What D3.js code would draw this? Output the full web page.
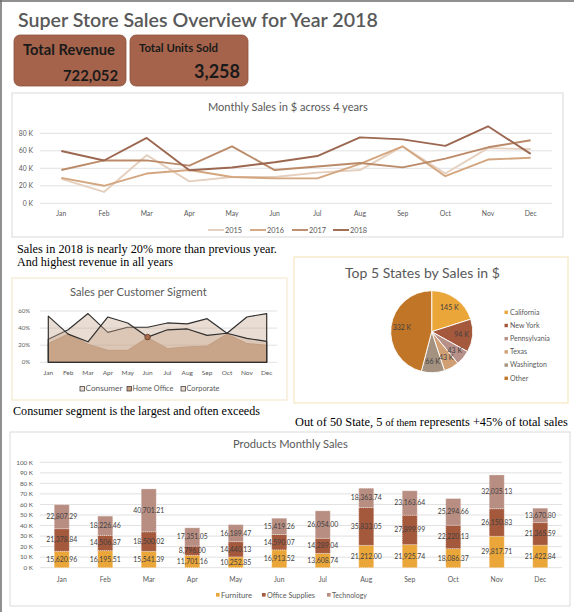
<!DOCTYPE html>
<html lang="en">
<head>
<meta charset="utf-8" />
<title>Super Store Sales Overview for Year 2018</title>
<script src="https://d3js.org/d3.v7.min.js"></script>
<style>
  body { margin: 0; background: #fff; }
  svg { display: block; }
  text { font-family: Lato, "Open Sans", sans-serif; fill: #595959; }
  .serif { font-family: "Liberation Serif", "DejaVu Serif", serif; fill: #000; }
</style>
</head>
<body>
<svg id="dash" width="574" height="612"></svg>
<script>
// ---- data ----
var months = ["Jan","Feb","Mar","Apr","May","Jun","Jul","Aug","Sep","Oct","Nov","Dec"];

// monthly sales (K $)
var years = ["2015","2016","2017","2018"];
var sales2015 = [28, 13, 55, 25, 30, 30, 35, 38, 65, 34, 63, 62];
var sales2016 = [29, 20, 34, 38, 30, 28.5, 28.5, 45, 65, 31, 50, 52];
var sales2017 = [38, 49, 49, 43, 65, 38, 42, 46, 41, 51, 64, 72];
var sales2018 = [59.8, 48.9, 74.7, 37.8, 40.9, 46.9, 54.0, 75.4, 73.0, 65.6, 88.0, 56.5];

// customer segment share (%)
var segments = ["Consumer","Home Office","Corporate"];
var consumer   = [27, 38, 57, 35, 41, 41, 46, 45, 51, 34, 53, 57];
var homeOffice = [22, 33, 21, 14, 14, 29, 16, 18, 19, 33, 22, 20];
var corporate  = [54, 33, 24, 53, 46, 29.5, 38, 39, 31.5, 34, 28, 24.5];

// top states (K $)
var states = ["California","New York","Pennsylvania","Texas","Washington","Other"];
var stateSales = [145, 94, 43, 43, 66, 332];

// product categories 2018 ($)
var categories = ["Furniture","Office Supplies","Technology"];
var furniture = [15620.96, 16195.51, 15541.39, 11701.16, 10252.85, 16913.52, 13608.74, 21212.00, 21925.74, 18086.37, 29817.71, 21422.84];
var officeSupplies = [21378.84, 14506.87, 18500.02, 8796.00, 14440.13, 14590.07, 14289.04, 35833.05, 27899.99, 22220.13, 26150.83, 21365.59];
var technology = [22807.29, 18226.46, 40701.21, 17351.05, 16189.47, 15419.26, 26054.00, 18363.74, 23163.64, 25294.66, 32035.13, 13670.80];

var totalRevenue = "722,052";
var totalUnits = "3,258";

var svg = d3.select("#dash");

// squeeze/stretch a text to a width by its font size
function fit(t, w) {
  var l = t.node().getComputedTextLength();
  t.attr("font-size", parseFloat(t.attr("font-size")) * w / l);
  return t;
}

// page frame
svg.append("line").attr("x1", 0).attr("x2", 574).attr("y1", 1).attr("y2", 1).attr("stroke", "#6b6b6b").attr("stroke-width", 1.5);
svg.append("line").attr("x1", 1).attr("x2", 1).attr("y1", 0).attr("y2", 612).attr("stroke", "#6b6b6b").attr("stroke-width", 1.5);

// ---- header ----
fit(svg.append("text").attr("x", 18).attr("y", 27).attr("font-size", 20)
  .attr("font-family", "'Open Sans', sans-serif").attr("font-weight", 600)
  .text("Super Store Sales Overview for Year 2018"), 360);

var cards = [
  {x: 14, w: 112, label: "Total Revenue", lw: 92, ls: 12, ly: 55, value: totalRevenue, vw: 55, vs: 14, vy: 81},
  {x: 130, w: 118, label: "Total Units Sold", lw: 79, ls: 9.5, ly: 52, value: totalUnits, vw: 46, vs: 18, vy: 78}
];
cards.forEach(function (c) {
  svg.append("rect").attr("x", c.x).attr("y", 35).attr("width", c.w).attr("height", 51)
    .attr("rx", 6).attr("fill", "#a5634b").attr("stroke", "#8e523d").attr("stroke-width", 0.8);
  fit(svg.append("text").attr("x", c.x + 9).attr("y", c.ly).attr("font-size", c.ls)
    .attr("font-family", "'Open Sans', sans-serif").attr("font-weight", 700).style("fill", "#1a1a1a")
    .text(c.label), c.lw);
  fit(svg.append("text").attr("x", c.x + c.w - 8).attr("y", c.vy).attr("text-anchor", "end")
    .attr("font-size", c.vs).attr("font-family", "'Open Sans', sans-serif").attr("font-weight", 700)
    .style("fill", "#1a1a1a").text(c.value), c.vw);
});

// ---- monthly sales line chart ----
svg.append("rect").attr("x", 12).attr("y", 93).attr("width", 551).attr("height", 144)
  .attr("fill", "#fff").attr("stroke", "#d9d9d9");
fit(svg.append("text").attr("x", 208).attr("y", 111).attr("font-size", 11)
  .text("Monthly Sales in $ across 4 years"), 160);

var lx = d3.scaleBand().domain(months).range([40, 552]);
var ly = d3.scaleLinear().domain([0, 80]).range([203.3, 133.3]);
var lineColors = d3.scaleOrdinal().domain(years).range(["#e5cfbe", "#d3a67f", "#bb8a69", "#9c6750"]);

var lg = svg.append("g");
lg.selectAll("line.grid").data(ly.ticks(4)).enter().append("line")
  .attr("x1", 40).attr("x2", 552).attr("y1", function (d) { return ly(d); }).attr("y2", function (d) { return ly(d); })
  .attr("stroke", "#d9d9d9").attr("stroke-width", 0.8);
lg.selectAll("text.yl").data(ly.ticks(4)).enter().append("text")
  .attr("x", 33).attr("y", function (d) { return ly(d) + 2.4; }).attr("text-anchor", "end")
  .attr("font-size", 6.8).text(function (d) { return d + " K"; });
lg.selectAll("text.xl").data(months).enter().append("text")
  .attr("x", function (d) { return lx(d) + lx.bandwidth() / 2; }).attr("y", 216)
  .attr("text-anchor", "middle").attr("font-size", 6.8).text(function (d) { return d; });

var lineSeries = [
  {year: "2015", values: sales2015}, {year: "2016", values: sales2016},
  {year: "2017", values: sales2017}, {year: "2018", values: sales2018}
];
var line = d3.line()
  .x(function (d, i) { return lx(months[i]) + lx.bandwidth() / 2; })
  .y(function (d) { return ly(d); });
lg.selectAll("path.series").data(lineSeries).enter().append("path")
  .attr("d", function (s) { return line(s.values); })
  .attr("fill", "none").attr("stroke", function (s) { return lineColors(s.year); })
  .attr("stroke-width", 1.9).attr("stroke-linejoin", "round");

var legX = [208, 250, 292, 333];
years.forEach(function (y, i) {
  lg.append("line").attr("x1", legX[i]).attr("x2", legX[i] + 16).attr("y1", 230).attr("y2", 230)
    .attr("stroke", lineColors(y)).attr("stroke-width", 1.9);
  fit(lg.append("text").attr("x", legX[i] + 17).attr("y", 232.5).attr("font-size", 7).text(y), 17);
});

// ---- comments ----
fit(svg.append("text").attr("class", "serif").attr("x", 17).attr("y", 253).attr("font-size", 12)
  .text("Sales in 2018 is nearly 20% more than previous year."), 260);
fit(svg.append("text").attr("class", "serif").attr("x", 17).attr("y", 266).attr("font-size", 12)
  .text("And highest revenue in all years"), 156);
fit(svg.append("text").attr("class", "serif").attr("x", 13).attr("y", 415).attr("font-size", 12)
  .text("Consumer segment is the largest and often exceeds"), 247);
var note = svg.append("text").attr("class", "serif").attr("x", 295).attr("y", 426).attr("font-size", 11.5);
note.append("tspan").text("Out of 50 State, 5 ");
note.append("tspan").text("of them").attr("font-size", 9.5);
note.append("tspan").text(" represents +45% of total sales");
(function () {
  var l = note.node().getComputedTextLength();
  var k = 273 / l;
  note.selectAll("tspan").each(function () {
    var t = d3.select(this);
    var fs = t.attr("font-size") ? parseFloat(t.attr("font-size")) : 11.5;
    t.attr("font-size", fs * k);
  });
})();

// ---- customer segment areas ----
svg.append("rect").attr("x", 12).attr("y", 278).attr("width", 275).attr("height", 122)
  .attr("fill", "#fff").attr("stroke", "#f3e4c6");
fit(svg.append("text").attr("x", 70).attr("y", 296).attr("font-size", 11)
  .text("Sales per Customer Sigment"), 137);

var sx = d3.scalePoint().domain(months).range([48.3, 266.7]);
var sy = d3.scaleLinear().domain([0, 60]).range([362.3, 311]);
var sg = svg.append("g");
sg.selectAll("line.grid").data(sy.ticks(3)).enter().append("line")
  .attr("x1", 40).attr("x2", 277).attr("y1", function (d) { return sy(d); }).attr("y2", function (d) { return sy(d); })
  .attr("stroke", "#d9d9d9").attr("stroke-width", 0.8);
sg.selectAll("text.yl").data(sy.ticks(3)).enter().append("text")
  .attr("x", 30).attr("y", function (d) { return sy(d) + 2; }).attr("text-anchor", "end")
  .attr("font-size", 6).text(function (d) { return d + "%"; });
sg.selectAll("text.xl").data(months).enter().append("text")
  .attr("x", function (d) { return sx(d); }).attr("y", 375).attr("text-anchor", "middle")
  .attr("font-size", 6.5).text(function (d) { return d; });

var area = d3.area()
  .x(function (d, i) { return sx(months[i]); })
  .y0(sy(0)).y1(function (d) { return sy(d); });
sg.append("path").attr("d", area(homeOffice) + "Z").attr("fill", "#c9a080")
  .attr("stroke", "#b98c6b").attr("stroke-width", 1);
[consumer, corporate].forEach(function (vals) {
  sg.append("path").attr("d", area(vals) + "Z").attr("fill", "#c9a78f").attr("fill-opacity", 0.4)
    .attr("stroke", "#2f2f2f").attr("stroke-width", 1.2).attr("stroke-linejoin", "round");
});
sg.append("circle").attr("cx", sx("Jun")).attr("cy", sy(corporate[5])).attr("r", 2.8)
  .attr("fill", "#a8694c").attr("stroke", "#5a3a2a").attr("stroke-width", 0.8);

var segLeg = [
  {name: "Consumer", x: 80, w: 37, fill: "#e9dbd0"},
  {name: "Home Office", x: 127, w: 41, fill: "#c9a080"},
  {name: "Corporate", x: 181, w: 33, fill: "#e9dbd0"}
];
segLeg.forEach(function (d) {
  sg.append("rect").attr("x", d.x).attr("y", 386.5).attr("width", 4.5).attr("height", 4.5)
    .attr("fill", d.fill).attr("stroke", "#2f2f2f").attr("stroke-width", 0.7);
  fit(sg.append("text").attr("x", d.x + 5.5).attr("y", 391.3).attr("font-size", 6.5).text(d.name), d.w);
});

// ---- top states pie ----
svg.append("rect").attr("x", 294).attr("y", 257).attr("width", 274).attr("height", 146)
  .attr("fill", "#fff").attr("stroke", "#f6e2b6");
fit(svg.append("text").attr("x", 345).attr("y", 278).attr("font-size", 13)
  .attr("font-family", "'Open Sans', sans-serif").text("Top 5 States by Sales in $"), 155);

var pieColors = d3.scaleOrdinal().domain(states)
  .range(["#eba63a", "#a4583c", "#b8908a", "#d09f74", "#a4917f", "#c07527"]);
var pie = d3.pie().sort(null).value(function (d) { return d.v; });
var arc = d3.arc().innerRadius(0).outerRadius(41);
var labelArc = d3.arc().innerRadius(30).outerRadius(30);
var pieData = pie(states.map(function (s, i) { return {name: s, v: stateSales[i]}; }));
var pg = svg.append("g").attr("transform", "translate(431.7,331.7)");
pg.selectAll("path").data(pieData).enter().append("path")
  .attr("d", arc).attr("fill", function (d) { return pieColors(d.data.name); })
  .attr("stroke", "#fff").attr("stroke-width", 0.9);
pg.selectAll("text").data(pieData).enter().append("text")
  .attr("transform", function (d) { return "translate(" + labelArc.centroid(d) + ")"; })
  .attr("dy", "0.35em").attr("text-anchor", "middle").attr("font-size", 7).style("fill", "#404040")
  .text(function (d) { return d.data.v + " K"; });

states.forEach(function (s, i) {
  var y = 312.3 + i * 13.2;
  svg.append("rect").attr("x", 504.5).attr("y", y - 1.7).attr("width", 3.4).attr("height", 3.4)
    .attr("fill", pieColors(s));
  svg.append("text").attr("x", 510).attr("y", y + 2.3).attr("font-size", 7).text(s);
});

// ---- products monthly stacked bars ----
svg.append("rect").attr("x", 10).attr("y", 432).attr("width", 560).attr("height", 174)
  .attr("fill", "#fff").attr("stroke", "#d9d9d9");
fit(svg.append("text").attr("x", 233).attr("y", 448).attr("font-size", 11)
  .text("Products Monthly Sales"), 115);

var bx = d3.scaleBand().domain(months).range([40, 562]);
var by = d3.scaleLinear().domain([0, 100]).range([567.7, 462.3]);
var barColors = d3.scaleOrdinal().domain(categories).range(["#eba63a", "#a4583c", "#b98e82"]);
var bg = svg.append("g");
bg.selectAll("line.grid").data(by.ticks(10)).enter().append("line")
  .attr("x1", 40).attr("x2", 562).attr("y1", function (d) { return by(d); }).attr("y2", function (d) { return by(d); })
  .attr("stroke", "#d9d9d9").attr("stroke-width", 0.8);
bg.selectAll("text.yl").data(by.ticks(10)).enter().append("text")
  .attr("x", 33).attr("y", function (d) { return by(d) + 2.2; }).attr("text-anchor", "end")
  .attr("font-size", 6.3).text(function (d) { return d + " K"; });
bg.selectAll("text.xl").data(months).enter().append("text")
  .attr("x", function (d) { return bx(d) + bx.bandwidth() / 2; }).attr("y", 581.5)
  .attr("text-anchor", "middle").attr("font-size", 6.8).text(function (d) { return d; });

var rows = months.map(function (m, i) {
  return {month: m, "Furniture": furniture[i], "Office Supplies": officeSupplies[i], "Technology": technology[i]};
});
var stack = d3.stack().keys(categories)(rows);
var fmt = d3.format(",.2f");
stack.forEach(function (layer) {
  var g = bg.append("g");
  g.selectAll("rect").data(layer).enter().append("rect")
    .attr("x", function (d) { return bx(d.data.month) + bx.bandwidth() / 2 - 7.5; })
    .attr("width", 15)
    .attr("y", function (d) { return by(d[1] / 1000); })
    .attr("height", function (d) { return by(d[0] / 1000) - by(d[1] / 1000); })
    .attr("fill", barColors(layer.key))
    .attr("stroke", "#fff").attr("stroke-width", 0.5).attr("stroke-dasharray", "1,1");
  g.selectAll("text").data(layer).enter().append("text")
    .attr("x", function (d) { return bx(d.data.month) + bx.bandwidth() / 2; })
    .attr("y", function (d) { return by((d[0] + d[1]) / 2000) + 2.4; })
    .attr("text-anchor", "middle").attr("font-size", 6.9).style("fill", "#404040")
    .text(function (d) { return fmt(d.data[layer.key]); });
});

var barLeg = [{x: 216, w: 31}, {x: 262, w: 48}, {x: 327, w: 35}];
categories.forEach(function (c, i) {
  bg.append("rect").attr("x", barLeg[i].x).attr("y", 593).attr("width", 3.6).attr("height", 3.6)
    .attr("fill", barColors(c));
  fit(bg.append("text").attr("x", barLeg[i].x + 5).attr("y", 597.5).attr("font-size", 6.8).text(c), barLeg[i].w);
});
</script>
</body>
</html>
